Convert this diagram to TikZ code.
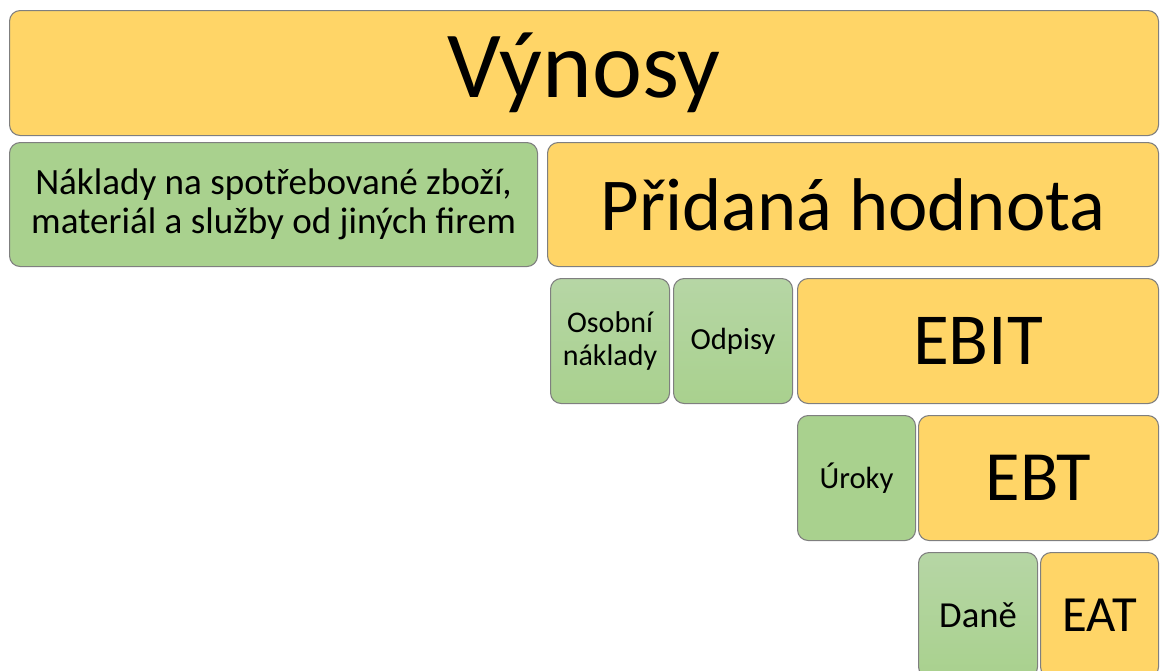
\documentclass[tikz,border=0pt]{standalone}
\usepackage{fontspec}
\setmainfont{Carlito}
\definecolor{gold}{HTML}{FFD567}
\definecolor{leaf}{HTML}{A9D18E}
\definecolor{leaflight}{HTML}{B6D6A5}
\definecolor{rim}{HTML}{7F7F7F}
\tikzset{
  block/.style={draw=rim, line width=0.8pt, rounded corners=8pt, anchor=north west,
    inner sep=0pt, align=center, text=black},
  yellowblock/.style={block, fill=gold},
  greenblock/.style={block, fill=leaf},
  greenfade/.style={block, top color=leaflight, bottom color=leaf},
}
\begin{document}
\begin{tikzpicture}[x=0.75pt, y=-0.75pt]
  \useasboundingbox (0,0) rectangle (1168,671);
  \clip (0,0) rectangle (1168,671);
  % revenue bar
  \node[yellowblock, minimum width=861.75pt, minimum height=93.75pt,
    font=\fontsize{71}{71}\selectfont] (vynosy) at (9,10) {Výnosy};
  % second row
  \node[greenblock, minimum width=396pt, minimum height=93pt,
    font=\fontsize{27.8}{29.5}\selectfont] (naklady) at (9,142)
    {Náklady na spotřebované zboží,\\materiál a služby od jiných firem};
  \node[yellowblock, minimum width=458.25pt, minimum height=93pt,
    font=\fontsize{56}{56}\selectfont] (pridana) at (547,142) {Přidaná hodnota};
  % third row
  \node[greenfade, minimum width=89.25pt, minimum height=93.75pt,
    font=\fontsize{22.5}{25}\selectfont] (osobni) at (550,278) {Osobní\\náklady};
  \node[greenfade, minimum width=89.25pt, minimum height=93.75pt,
    font=\fontsize{23}{25}\selectfont] (odpisy) at (673,278) {Odpisy};
  \node[yellowblock, minimum width=270.75pt, minimum height=93.75pt,
    font=\fontsize{55}{55}\selectfont] (ebit) at (797,278) {EBIT};
  % fourth row
  \node[greenblock, minimum width=88.5pt, minimum height=93.75pt,
    font=\fontsize{23}{25}\selectfont] (uroky) at (797,415) {Úroky};
  \node[yellowblock, minimum width=180pt, minimum height=93.75pt,
    font=\fontsize{53}{53}\selectfont] (ebt) at (918,415) {EBT};
  % fifth row
  \node[greenfade, minimum width=89.25pt, minimum height=93.75pt,
    font=\fontsize{27.5}{30}\selectfont] (dane) at (918,552) {Daně};
  \node[yellowblock, minimum width=88.5pt, minimum height=93.75pt,
    font=\fontsize{38}{38}\selectfont] (eat) at (1040,552) {EAT};
\end{tikzpicture}
\end{document}
